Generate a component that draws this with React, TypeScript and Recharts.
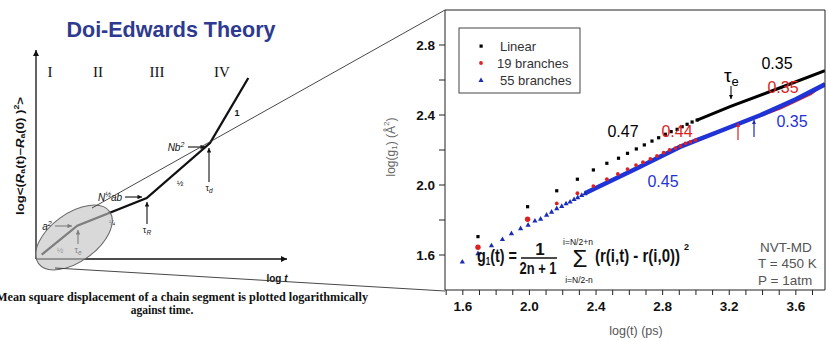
import React from 'react';
import { ComposedChart, LineChart, Line, Scatter, XAxis, YAxis } from 'recharts';

const SANS = '"Liberation Sans", Arial, sans-serif';
const SERIF = '"Liberation Serif", "Times New Roman", serif';

// Doi-Edwards sketch, arbitrary log units
const sketchLogT = [0.57, 4.13, 11.07, 17.4, 21.23];
const sketchLogMsd = [0.43, 3.33, 6.1, 11.6, 18.1];

// NVT-MD, log(t) [ps] vs log(g1) [A^2]
const linearLogT = [1.691, 1.989, 2.164, 2.288, 2.384, 2.465, 2.535, 2.589, 2.642, 2.69, 2.736, 2.776, 2.816, 2.851, 2.887, 2.917, 2.947, 2.977, 3.007];
const linearLogG = [1.705, 1.876, 1.967, 2.033, 2.086, 2.124, 2.153, 2.181, 2.206, 2.229, 2.251, 2.27, 2.29, 2.305, 2.318, 2.333, 2.347, 2.36, 2.371];
const linearDenseT = [3.007, 3.208, 3.51, 3.775];
const linearDenseG = [2.371, 2.449, 2.557, 2.653];

const b19LogT = [1.691, 1.989, 2.164, 2.288, 2.384, 2.465, 2.531, 2.589, 2.64, 2.682, 2.726, 2.766, 2.806, 2.842, 2.877, 2.907, 2.937, 2.967, 2.997];
const b19LogG = [1.644, 1.804, 1.895, 1.953, 1.994, 2.033, 2.063, 2.091, 2.114, 2.13, 2.149, 2.166, 2.185, 2.2, 2.211, 2.223, 2.238, 2.247, 2.257];
const b19DenseT = [2.997, 3.268, 3.51, 3.69, 3.775];
const b19DenseG = [2.257, 2.352, 2.44, 2.52, 2.58];

const b55LogT = [1.597, 1.691, 1.772, 1.838, 1.892, 1.947, 1.992, 2.033, 2.067, 2.103, 2.133, 2.164, 2.194, 2.22, 2.244, 2.268, 2.29, 2.314, 2.334];
const b55LogG = [1.562, 1.61, 1.655, 1.691, 1.724, 1.753, 1.773, 1.796, 1.807, 1.83, 1.847, 1.867, 1.88, 1.895, 1.905, 1.919, 1.93, 1.943, 1.953];
const b55DenseT = [2.334, 2.646, 2.907, 3.15, 3.389, 3.6, 3.775];
const b55DenseG = [1.953, 2.096, 2.219, 2.31, 2.4, 2.49, 2.575];

const xMajor = [1.6, 2.0, 2.4, 2.8, 3.2, 3.6];
const xMinor = [1.5, 1.7, 1.8, 1.9, 2.1, 2.2, 2.3, 2.5, 2.6, 2.7, 2.9, 3.0, 3.1, 3.3, 3.4, 3.5, 3.7];
const yMajor = [1.6, 2.0, 2.4, 2.8];
const yMinor = [1.8, 2.2, 2.6];

const pts = (xs: number[], ys: number[]) => xs.map((x, i) => ({ x, y: ys[i] }));
const xTicks = [...xMajor, ...xMinor].sort((a, b) => a - b);
const yTicks = [...yMajor, ...yMinor].sort((a, b) => a - b);
const fmtX = (v: number) => (xMajor.includes(v) ? v.toFixed(1) : '');
const fmtY = (v: number) => (yMajor.includes(v) ? v.toFixed(1) : '');

const BLACK = '#000';
const RED = '#dc2222';
const BLUE = '#1b2db8';
const BLUE_LINE = '#1f33d6';

const Square = (p: any) => <rect x={p.cx - 1.6} y={p.cy - 1.6} width={3.2} height={3.2} fill={BLACK} />;
const Dot = (p: any) => <circle cx={p.cx} cy={p.cy} r={p.payload && p.payload.x < 2.05 ? 2.7 : 1.9} fill={RED} />;
const Tri = (p: any) => (
  <polygon points={`${p.cx},${p.cy - 2.7} ${p.cx + 2.6},${p.cy + 1.9} ${p.cx - 2.6},${p.cy + 1.9}`} fill={BLUE} />
);

const tickFont = { fontSize: 13.5, fontWeight: 700, fill: '#111', fontFamily: SANS };

function Sketch() {
  return (
    <LineChart width={380} height={340} data={pts(sketchLogT, sketchLogMsd)} margin={{ top: 50, right: 93, bottom: 80, left: 35 }}>
      <XAxis dataKey="x" type="number" domain={[0, 25.1]} height={1} tick={false} tickLine={false}
        axisLine={{ stroke: '#111', strokeWidth: 1.3, markerEnd: 'url(#axHead)' }} />
      <YAxis type="number" domain={[0, 20.9]} width={1} tick={false} tickLine={false}
        axisLine={{ stroke: '#111', strokeWidth: 1.3, markerStart: 'url(#axHead)' }} />
      <Line dataKey="y" stroke="#111" strokeWidth={2.3} dot={false} isAnimationActive={false} />
    </LineChart>
  );
}

function MdPlot() {
  return (
    <ComposedChart width={826} height={340} margin={{ top: 9, right: 1, bottom: 2, left: 395 }}>
      <XAxis xAxisId={0} dataKey="x" type="number" domain={[1.493, 3.775]} allowDataOverflow ticks={xTicks} interval={0}
        tickFormatter={fmtX} tickSize={5} tickMargin={6} height={48} tick={tickFont}
        axisLine={{ stroke: '#222' }} tickLine={{ stroke: '#222' }} />
      <XAxis xAxisId="top" orientation="top" type="number" domain={[1.493, 3.775]} allowDataOverflow ticks={xTicks} interval={0}
        tick={false} tickSize={5} height={1} axisLine={{ stroke: '#222' }} tickLine={{ stroke: '#222' }} />
      <YAxis yAxisId={0} type="number" domain={[1.4, 3.0]} allowDataOverflow ticks={yTicks} interval={0}
        tickFormatter={fmtY} tickSize={6} tickMargin={4} width={50} tick={tickFont}
        axisLine={{ stroke: '#222' }} tickLine={{ stroke: '#222' }} />
      <YAxis yAxisId="right" orientation="right" mirror type="number" domain={[1.4, 3.0]} allowDataOverflow ticks={yTicks} interval={0}
        tick={false} tickSize={5} width={1} axisLine={{ stroke: '#222' }} tickLine={{ stroke: '#222' }} />

      <Line data={pts(linearDenseT, linearDenseG)} dataKey="y" stroke={BLACK} strokeWidth={3} dot={false} isAnimationActive={false} />
      <Scatter data={pts(linearLogT, linearLogG)} dataKey="y" shape={Square} isAnimationActive={false} />
      <Line data={pts(b19DenseT, b19DenseG)} dataKey="y" stroke={RED} strokeWidth={2.6} dot={false} isAnimationActive={false} />
      <Scatter data={pts(b19LogT, b19LogG)} dataKey="y" shape={Dot} isAnimationActive={false} />
      <Line data={pts(b55DenseT, b55DenseG)} dataKey="y" stroke={BLUE_LINE} strokeWidth={4.5} dot={false} isAnimationActive={false} />
      <Scatter data={pts(b55LogT, b55LogG)} dataKey="y" shape={Tri} isAnimationActive={false} />
    </ComposedChart>
  );
}

const marker = (id: string, color: string, w: number, h: number) => (
  <marker id={id} viewBox="0 0 10 10" refX={10} refY={5} markerWidth={w} markerHeight={h}
    markerUnits="userSpaceOnUse" orient="auto-start-reverse">
    <path d="M0,0 L10,5 L0,10 z" fill={color} />
  </marker>
);

function Overlay() {
  const it = { fontStyle: 'italic' as const };
  return (
    <svg width={826} height={340} style={{ position: 'absolute', left: 0, top: 0, pointerEvents: 'none' }}>
      <defs>
        {marker('axHead', '#111', 9, 6)}
        {marker('smHead', '#111', 6, 4.5)}
        {marker('kHead', '#000', 5, 4)}
        {marker('rHead', RED, 5, 4)}
        {marker('bHead', BLUE, 5, 4)}
      </defs>

      {/* left sketch */}
      <text x={171} y={30} textAnchor="middle" dominantBaseline="central" fontFamily={SANS} fontWeight={700} fontSize={21.5} fill="#2e3a8f">
        Doi-Edwards Theory
      </text>
      <g fontFamily={SERIF} fontSize={15} fill="#111" textAnchor="middle" dominantBaseline="central">
        <text x={50} y={72}>I</text>
        <text x={98} y={72}>II</text>
        <text x={157} y={72}>III</text>
        <text x={222} y={72}>IV</text>
      </g>
      <text transform="translate(20,156) rotate(-90)" textAnchor="middle" dominantBaseline="central" fontSize={10.5}
        fontWeight={700} fontFamily={SANS} fill="#111" textLength={118} lengthAdjust="spacingAndGlyphs">
        {'log<('}<tspan {...it}>R</tspan><tspan fontSize={7} dy={2}>a</tspan><tspan dy={-2}>(t)−</tspan>
        <tspan {...it}>R</tspan><tspan fontSize={7} dy={2}>a</tspan><tspan dy={-2}>(0) )</tspan>
        <tspan fontSize={7} dy={-4}>2</tspan><tspan dy={4}>{'>'}</tspan>
      </text>
      <text x={277} y={278} textAnchor="middle" dominantBaseline="central" fontFamily={SANS} fontWeight={700} fontSize={10} fill="#111">
        log <tspan {...it}>t</tspan>
      </text>

      <g fontFamily={SANS} fill="#111" fontSize={10}>
        <text x={176} y={151} textAnchor="middle" {...it}>Nb<tspan fontSize={7} dy={-4}>2</tspan></text>
        <text x={110} y={201} textAnchor="middle" {...it}>N<tspan fontSize={7} dy={-4}>½</tspan><tspan dy={4}>ab</tspan></text>
        <text x={47} y={230} textAnchor="middle" {...it}>a<tspan fontSize={7} dy={-4}>2</tspan></text>
        <text x={78} y={253} textAnchor="middle" fontSize={9}>τ<tspan fontSize={6.5} dy={2} {...it}>e</tspan></text>
        <text x={147} y={233} textAnchor="middle" fontSize={9}>τ<tspan fontSize={6.5} dy={2} {...it}>R</tspan></text>
        <text x={209} y={191} textAnchor="middle" fontSize={9}>τ<tspan fontSize={6.5} dy={2} {...it}>d</tspan></text>
        <text x={60} y={253} textAnchor="middle" fontSize={8} fill="#555">½</text>
        <text x={112} y={225} textAnchor="middle" fontSize={7}>¼</text>
        <text x={180} y={186} textAnchor="middle" fontSize={8}>½</text>
        <text x={237} y={116} textAnchor="middle" fontSize={9} fontWeight={700}>1</text>
      </g>
      <g stroke="#111" strokeWidth={1.1}>
        <line x1={55} y1={226} x2={72} y2={226} markerEnd="url(#smHead)" />
        <line x1={78} y1={244} x2={78} y2={230} markerEnd="url(#smHead)" />
        <line x1={125} y1={197} x2={142} y2={197} markerEnd="url(#smHead)" />
        <line x1={147} y1={224} x2={147} y2={202} markerEnd="url(#smHead)" />
        <line x1={188} y1={147} x2={205} y2={147} markerEnd="url(#smHead)" />
        <line x1={209} y1={182} x2={209} y2={148} markerEnd="url(#smHead)" />
      </g>
      <ellipse cx={74} cy={237.5} rx={44} ry={24} transform="rotate(-36 74 237.5)" fill="#c2c2c2" fillOpacity={0.62} stroke="#666" strokeWidth={1} />
      <line x1={92} y1={208} x2={445} y2={10} stroke="#333" strokeWidth={0.9} />
      <line x1={55} y1={268} x2={445} y2={291} stroke="#333" strokeWidth={0.9} />
      <g fontFamily={SERIF} fontWeight={700} fontSize={11.5} fill="#111">
        <text x={-4} y={301} textLength={372} lengthAdjust="spacingAndGlyphs">
          Mean square displacement of a chain segment is plotted logarithmically
        </text>
        <text x={162} y={314} textAnchor="middle">against time.</text>
      </g>

      {/* right plot texts */}
      <text transform="translate(391,147) rotate(-90)" textAnchor="middle" dominantBaseline="central" fontFamily={SANS} fontSize={12} fill="#666">
        log(g<tspan fontSize={8} dy={3}>1</tspan><tspan dy={-3}>) (Å</tspan><tspan fontSize={8} dy={-5}>2</tspan><tspan dy={5}>)</tspan>
      </text>
      <text x={636} y={331} textAnchor="middle" dominantBaseline="central" fontFamily={SANS} fontSize={12.5} fill="#555">log(t) (ps)</text>

      <rect x={459} y={28} width={121} height={65} fill="#fff" stroke="#444" strokeWidth={1} />
      <rect x={479.5} y={44.5} width={3.2} height={3.2} fill={BLACK} />
      <circle cx={481} cy={63} r={1.9} fill={RED} />
      <polygon points="481,77.5 483.6,82 478.4,82" fill={BLUE} />
      <g fontFamily={SANS} fontSize={13} fill="#333" dominantBaseline="central">
        <text x={500} y={46}>Linear</text>
        <text x={497} y={63}>19 branches</text>
        <text x={500} y={80}>55 branches</text>
      </g>

      <g fontFamily={SANS} fontSize={16} textAnchor="middle" dominantBaseline="central">
        <text x={623} y={131} fill="#000">0.47</text>
        <text x={677} y={131} fill={RED}>0.44</text>
        <text x={777} y={63} fill="#000">0.35</text>
        <text x={783} y={87} fill={RED}>0.35</text>
        <text x={792} y={121} fill={BLUE_LINE}>0.35</text>
        <text x={663} y={181} fill={BLUE_LINE}>0.45</text>
      </g>
      <text x={724} y={82} fontFamily={SANS} fontSize={19} fill="#000">τ<tspan fontSize={13} dy={4}>e</tspan></text>
      <line x1={731} y1={86} x2={731} y2={99} stroke="#000" strokeWidth={1} markerEnd="url(#kHead)" />
      <line x1={738} y1={140} x2={738} y2={123} stroke={RED} strokeWidth={1.2} markerEnd="url(#rHead)" />
      <line x1={754} y1={137} x2={754} y2={120} stroke={BLUE} strokeWidth={1.2} markerEnd="url(#bHead)" />

      <g fontFamily={SANS} fontWeight={700} fill="#111">
        <text x={477} y={262} fontSize={18} textLength={40} lengthAdjust="spacingAndGlyphs">
          g<tspan fontSize={10} dy={3}>1</tspan><tspan dy={-3}>(t) =</tspan>
        </text>
        <text x={540} y={254.5} fontSize={17} textAnchor="middle">1</text>
        <line x1={521} y1={258} x2={557} y2={258} stroke="#111" strokeWidth={1.5} />
        <text x={538} y={274} fontSize={17} textAnchor="middle" textLength={37} lengthAdjust="spacingAndGlyphs">2n + 1</text>
        <text x={580} y={267} fontSize={24} textAnchor="middle" fontWeight={400}>Σ</text>
        <text x={578} y={244.5} fontSize={8.5} textAnchor="middle" fontWeight={400}>i=N/2+n</text>
        <text x={579} y={282.5} fontSize={8.5} textAnchor="middle" fontWeight={400}>i=N/2-n</text>
        <text x={595} y={262} fontSize={18} textLength={85} lengthAdjust="spacingAndGlyphs">(r(i,t) - r(i,0))</text>
        <text x={684} y={250} fontSize={9}>2</text>
      </g>
      <g fontFamily={SANS} fontSize={13.5} fill="#555" dominantBaseline="central">
        <text x={760} y={247}>NVT-MD</text>
        <text x={758} y={263.5}>T = 450 K</text>
        <text x={758} y={280}>P = 1atm</text>
      </g>
    </svg>
  );
}

export default function App() {
  return (
    <div style={{ position: 'absolute', left: 0, top: 0, width: 826, height: 340, background: '#fff', overflow: 'hidden' }}>
      <div style={{ position: 'absolute', left: 0, top: 0 }}>
        <MdPlot />
      </div>
      <div style={{ position: 'absolute', left: 0, top: 0 }}>
        <Sketch />
      </div>
      <Overlay />
    </div>
  );
}
